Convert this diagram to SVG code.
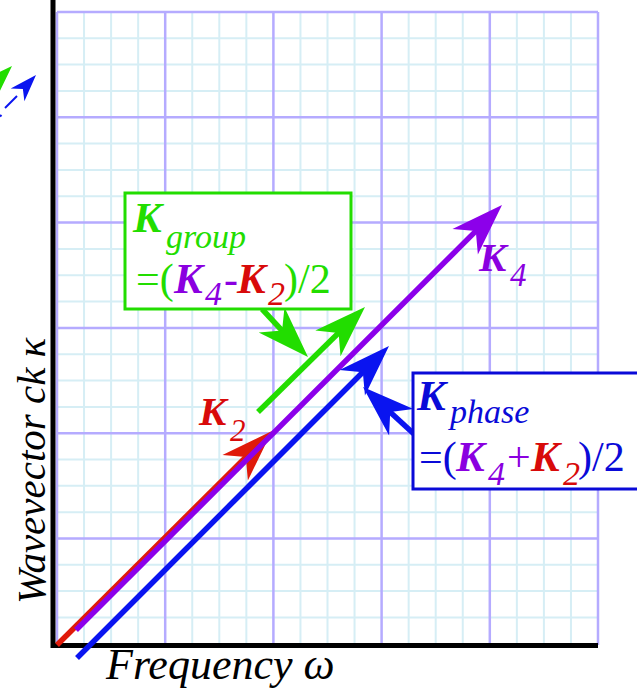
<svg xmlns="http://www.w3.org/2000/svg" width="637" height="693" viewBox="0 0 637 693">
<style>
.minor{stroke:#d6eef5;stroke-width:2;fill:none}
.major{stroke:#b5abff;stroke-width:2.5;fill:none}
.axis{stroke:#000;stroke-width:5;fill:none}
.t{font-family:"Liberation Serif","Times New Roman",serif}
.bi{font-weight:bold;font-style:italic}
.it{font-style:italic}
.green{fill:#22dd00}
.blue{fill:#0a0ad8}
.purple{fill:#8a00e0}
.red{fill:#d80a0a}
</style>
<defs>
<path id="ah" d="M0,0 L-52,-18 L-37,0 L-52,18 Z"/>
</defs>
<rect width="637" height="693" fill="#fff"/>
<g id="grid">
<path class="minor" d="M84.05,12V645M111.1,12V645M138.15,12V645M192.25,12V645M219.3,12V645M246.35,12V645M300.45,12V645M327.5,12V645M354.55,12V645M408.65,12V645M435.7,12V645M462.75,12V645M516.85,12V645M543.9,12V645M570.95,12V645"/>
<path class="minor" d="M57,38.3H598M57,64.6H598M57,91H598M57,143.6H598M57,169.9H598M57,196.3H598M57,248.9H598M57,275.2H598M57,301.6H598M57,354.2H598M57,380.5H598M57,406.9H598M57,459.5H598M57,485.8H598M57,512.2H598M57,564.8H598M57,591.1H598M57,617.5H598"/>
<path class="major" d="M57,12V645M165.2,12V645M273.4,12V645M381.6,12V645M489.8,12V645M598,12V645"/>
<path class="major" d="M57,12H598M57,117.3H598M57,222.6H598M57,327.9H598M57,433.2H598M57,538.5H598"/>
</g>
<g id="axes">
<path class="axis" d="M53,0V648M51,645.5H598"/>
</g>
<g id="connectors">
<line x1="57" y1="645" x2="246.5" y2="456.4" stroke="#e01a0a" stroke-width="5.5"/>
<use href="#ah" fill="#e01a0a" transform="translate(272,431) rotate(-44.9)"/>
<line x1="76" y1="630" x2="476.5" y2="230.4" stroke="#8c00ea" stroke-width="5.5"/>
<use href="#ah" fill="#8c00ea" transform="translate(502,205) rotate(-44.9)"/>
<line x1="77" y1="658" x2="363.5" y2="371.5" stroke="#0a14f0" stroke-width="5.5"/>
<use href="#ah" fill="#0a14f0" transform="translate(389,346) rotate(-45)"/>
<line x1="258" y1="412" x2="339.5" y2="332" stroke="#22dd00" stroke-width="5.5"/>
<use href="#ah" fill="#22dd00" transform="translate(365,307) rotate(-44.5)"/>
<line x1="262" y1="309" x2="282.8" y2="331.3" stroke="#22dd00" stroke-width="5.5"/>
<use href="#ah" fill="#22dd00" transform="translate(308,357) rotate(45.6)"/>
<line x1="414" y1="434" x2="389.5" y2="411.4" stroke="#0a14f0" stroke-width="5.5"/>
<use href="#ah" fill="#0a14f0" transform="translate(363,387) rotate(-137.4)"/>
<line x1="0" y1="116.5" x2="1.5" y2="115" stroke="#0a14f0" stroke-width="2"/>
<line x1="5" y1="108" x2="17" y2="96" stroke="#0a14f0" stroke-width="2"/>
<use href="#ah" fill="#0a14f0" transform="translate(36,75) rotate(-47) scale(0.52)"/>
<use href="#ah" fill="#22dd00" transform="translate(12,66) rotate(-45) scale(0.52)"/>
</g>
<g id="group-box">
<rect x="125" y="193" width="226" height="116" fill="#fff" stroke="#22dd00" stroke-width="3"/>
<text class="t green bi" x="133" y="232" font-size="43">K</text>
<text class="t green it" x="166" y="248" font-size="34">group</text>
<text class="t green" x="136" y="293" font-size="42">=(</text>
<text class="t purple bi" x="174" y="293" font-size="43">K</text>
<text class="t purple it" x="205" y="305" font-size="34">4</text>
<text class="t purple" x="224" y="293" font-size="42">-</text>
<text class="t red bi" x="237" y="293" font-size="43">K</text>
<text class="t red it" x="268" y="305" font-size="34">2</text>
<text class="t green" x="284" y="293" font-size="42">)/2</text>
</g>
<g id="phase-box">
<rect x="413" y="373" width="240" height="116" fill="#fff" stroke="#0a0ad8" stroke-width="3"/>
<text class="t blue bi" x="417" y="410" font-size="43">K</text>
<text class="t blue it" x="450" y="423" font-size="34">phase</text>
<text class="t blue" x="419" y="471" font-size="42">=(</text>
<text class="t purple bi" x="456" y="471" font-size="43">K</text>
<text class="t purple it" x="488" y="485" font-size="34">4</text>
<text class="t purple" x="507" y="471" font-size="42">+</text>
<text class="t red bi" x="531" y="471" font-size="43">K</text>
<text class="t red it" x="563" y="485" font-size="34">2</text>
<text class="t blue" x="578" y="471" font-size="42">)/2</text>
</g>
<g id="label-k2">
<text class="t red bi" x="199" y="425" font-size="41">K</text>
<text class="t red it" x="230" y="441" font-size="31">2</text>
</g>
<g id="label-k4">
<text class="t purple bi" x="479" y="271" font-size="41">K</text>
<text class="t purple it" x="510" y="286" font-size="33">4</text>
</g>
<g id="x-label">
<text class="t it" x="106" y="679" font-size="44" fill="#000">Frequency ω</text>
</g>
<g id="y-label">
<text class="t it" transform="translate(45,604) rotate(-90)" font-size="41" fill="#000">Wavevector ck κ</text>
</g>
</svg>
